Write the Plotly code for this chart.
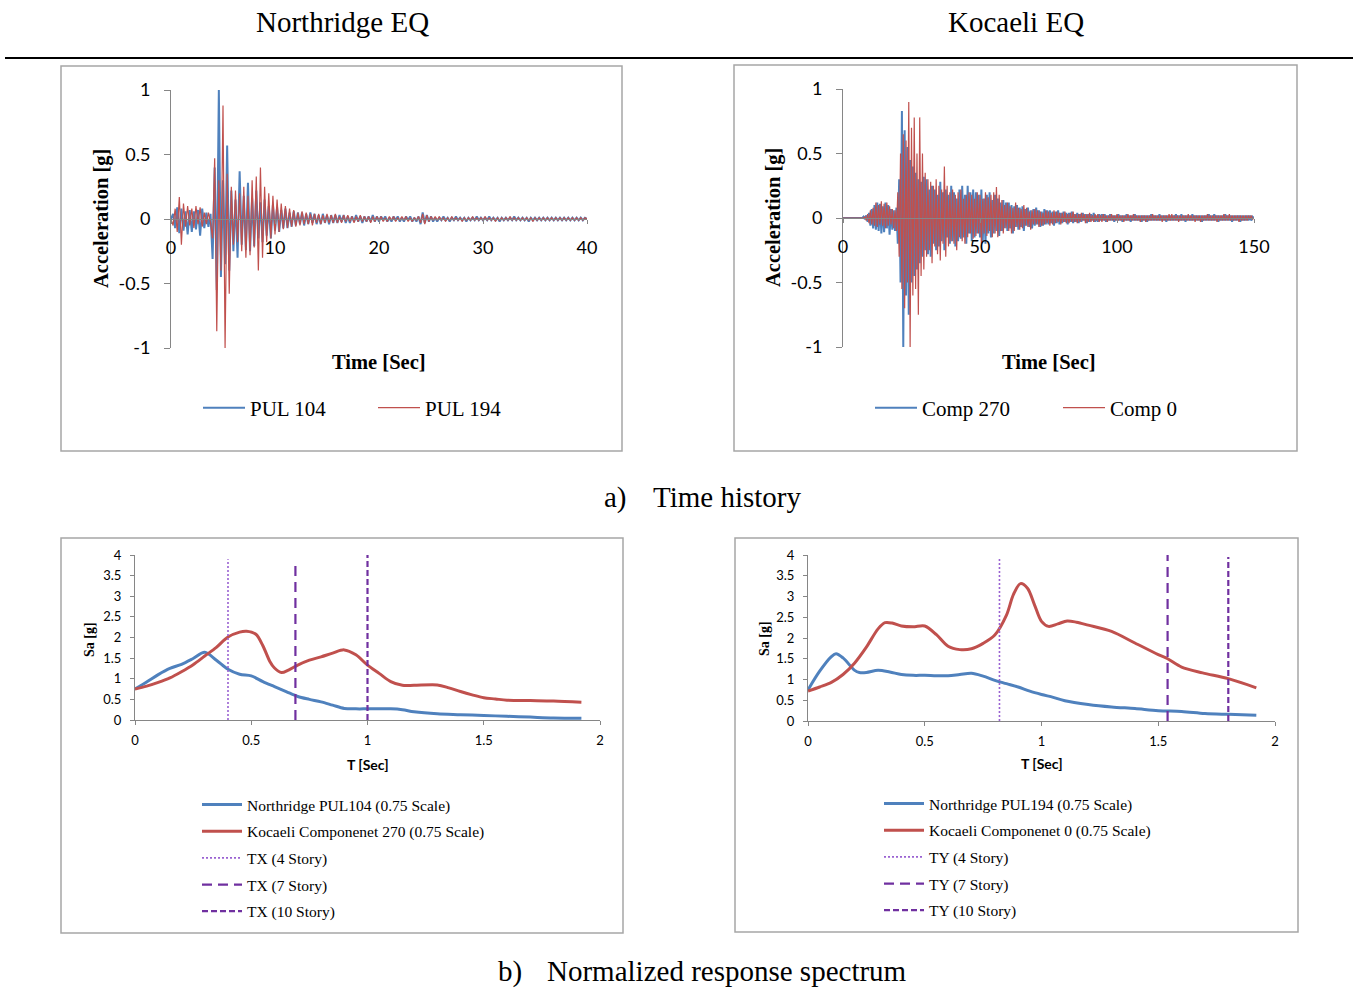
import numpy as np
import plotly.graph_objects as go

W, H = 1355, 989

# ---------------- Northridge ground motion (sampled every 0.2 s) ----------------
pul_dt = 0.2
pul104 = [
    0.00, 0.04, -0.07, 0.09, -0.11, 0.08, -0.09, 0.06, -0.12, 0.07,
    -0.10, 0.06, -0.08, 0.07, -0.13, 0.08, -0.07, 0.05, -0.06, 0.04,
    -0.31, 0.40, -0.55, 1.00, -0.45, 0.30, -0.35, 0.57, -0.40, 0.22,
    -0.25, 0.15, -0.30, 0.37, -0.20, 0.18, -0.24, 0.28, -0.25, 0.16,
    -0.21, 0.22, -0.15, 0.13, -0.18, 0.15, -0.13, 0.10, -0.15, 0.11,
    -0.09, 0.09, -0.10, 0.07, -0.07, 0.08, -0.07, 0.05, -0.06, 0.06,
    -0.05, 0.05, -0.04, 0.05, -0.05, 0.04, -0.04, 0.05, -0.03, 0.04,
    -0.04, 0.03, -0.04, 0.04, -0.03, 0.03, -0.04, 0.03, -0.03, 0.03,
    -0.03, 0.03, -0.02, 0.03, -0.03, 0.02, -0.03, 0.02, -0.02, 0.03,
    -0.02, 0.02, -0.03, 0.02, -0.02, 0.02, -0.02, 0.03, -0.02, 0.02,
    -0.02, 0.02, -0.01, 0.02, -0.02, 0.01, -0.02, 0.02, -0.01, 0.02,
    -0.02, 0.01, -0.02, 0.02, -0.01, 0.02, -0.02, 0.01, -0.02, 0.02,
    -0.04, 0.05, -0.03, 0.03, -0.02, 0.02, -0.02, 0.01, -0.02, 0.01,
    -0.01, 0.02, -0.01, 0.01, -0.02, 0.01, -0.01, 0.02, -0.01, 0.01,
    -0.01, 0.01, -0.02, 0.01, -0.01, 0.01, -0.01, 0.02, -0.01, 0.01,
    -0.01, 0.01, -0.01, 0.02, -0.01, 0.01, -0.01, 0.01, -0.02, 0.01,
    -0.01, 0.01, -0.01, 0.01, -0.01, 0.02, -0.01, 0.01, -0.01, 0.01,
    -0.01, 0.01, -0.02, 0.01, -0.01, 0.01, -0.01, 0.01, -0.01, 0.01,
    -0.01, 0.01, -0.01, 0.01, -0.01, 0.01, -0.01, 0.01, -0.01, 0.01,
    -0.01, 0.01, -0.01, 0.01, -0.01, 0.01, -0.01, 0.01, -0.01, 0.01,
    0.00,
]
pul194 = [
    0.00, -0.05, 0.08, -0.10, 0.17, -0.20, 0.12, -0.06, 0.10, -0.05,
    0.08, -0.07, 0.10, -0.04, 0.09, -0.06, 0.05, -0.04, 0.05, -0.03,
    -0.15, 0.47, -0.87, 0.30, -0.40, 0.88, -1.00, 0.35, -0.58, 0.25,
    -0.20, 0.22, -0.18, 0.20, -0.25, 0.25, -0.30, 0.18, -0.28, 0.30,
    -0.22, 0.33, -0.40, 0.40, -0.30, 0.25, -0.18, 0.20, -0.15, 0.18,
    -0.12, 0.15, -0.10, 0.12, -0.08, 0.10, -0.07, 0.08, -0.06, 0.07,
    -0.06, 0.05, -0.05, 0.06, -0.04, 0.05, -0.04, 0.04, -0.05, 0.04,
    -0.03, 0.04, -0.04, 0.03, -0.03, 0.04, -0.03, 0.03, -0.03, 0.04,
    -0.03, 0.02, -0.03, 0.03, -0.02, 0.03, -0.02, 0.02, -0.03, 0.02,
    -0.02, 0.03, -0.02, 0.02, -0.02, 0.02, -0.03, 0.02, -0.02, 0.02,
    -0.01, 0.02, -0.02, 0.01, -0.02, 0.02, -0.01, 0.02, -0.02, 0.01,
    -0.01, 0.02, -0.01, 0.02, -0.02, 0.01, -0.02, 0.01, -0.01, 0.02,
    -0.03, 0.04, -0.04, 0.03, -0.02, 0.02, -0.01, 0.02, -0.01, 0.02,
    -0.01, 0.01, -0.02, 0.01, -0.01, 0.02, -0.01, 0.01, -0.01, 0.01,
    -0.02, 0.01, -0.01, 0.01, -0.01, 0.02, -0.01, 0.01, -0.01, 0.01,
    -0.01, 0.02, -0.01, 0.01, -0.01, 0.01, -0.02, 0.01, -0.01, 0.01,
    -0.01, 0.01, -0.01, 0.02, -0.01, 0.01, -0.01, 0.01, -0.01, 0.01,
    -0.01, 0.01, -0.01, 0.01, -0.02, 0.01, -0.01, 0.01, -0.01, 0.01,
    -0.01, 0.01, -0.01, 0.01, -0.01, 0.01, -0.01, 0.01, -0.01, 0.01,
    -0.01, 0.01, -0.01, 0.01, -0.01, 0.01, -0.01, 0.01, -0.01, 0.01,
    0.00,
]

# ---------------- Kocaeli ground motion (sampled every 0.5 s) ----------------
koc_dt = 0.5
comp270 = [
    0, 0, 0, 0, 0, 0, 0, 0, 0, 0,
    0, 0, 0, 0, 0, 0.01, -0.01, 0.02, -0.03, 0.04,
    -0.06, 0.07, -0.08, 0.10, -0.09, 0.12, -0.10, 0.11, -0.12, 0.09,
    -0.11, 0.12, -0.08, 0.10, -0.13, 0.07, -0.09, 0.06, -0.10, 0.08,
    -0.20, 0.30, -0.50, 0.83, -1.00, 0.68, -0.60, 0.55, -0.75, 0.45,
    -0.50, 0.40, -0.45, 0.35, -0.40, 0.30, -0.35, 0.28, -0.30, 0.32,
    -0.25, 0.30, -0.28, 0.22, -0.30, 0.25, -0.20, 0.22, -0.25, 0.18,
    -0.22, 0.28, -0.18, 0.20, -0.25, 0.22, -0.15, 0.18, -0.20, 0.25,
    -0.18, 0.20, -0.22, 0.15, -0.18, 0.22, -0.16, 0.25, -0.15, 0.18,
    -0.20, 0.25, -0.12, 0.20, -0.18, 0.22, -0.15, 0.20, -0.12, 0.18,
    -0.15, 0.22, -0.18, 0.15, -0.20, 0.18, -0.12, 0.20, -0.15, 0.14,
    -0.12, 0.18, -0.10, 0.15, -0.14, 0.12, -0.10, 0.14, -0.08, 0.12,
    -0.10, 0.12, -0.08, 0.10, -0.12, 0.09, -0.07, 0.10, -0.09, 0.08,
    -0.07, 0.09, -0.10, 0.07, -0.06, 0.08, -0.07, 0.06, -0.08, 0.07,
    -0.06, 0.08, -0.05, 0.06, -0.07, 0.05, -0.06, 0.07, -0.05, 0.06,
    -0.05, 0.06, -0.04, 0.05, -0.06, 0.05, -0.04, 0.06, -0.05, 0.04,
    -0.04, 0.05, -0.03, 0.04, -0.05, 0.04, -0.03, 0.05, -0.04, 0.03,
    -0.03, 0.04, -0.04, 0.03, -0.03, 0.04, -0.02, 0.03, -0.04, 0.03,
    -0.03, 0.03, -0.02, 0.04, -0.03, 0.02, -0.03, 0.03, -0.02, 0.03,
    -0.02, 0.03, -0.03, 0.02, -0.02, 0.03, -0.02, 0.02, -0.03, 0.02,
    -0.02, 0.03, -0.02, 0.02, -0.03, 0.02, -0.02, 0.03, -0.02, 0.02,
    -0.03, 0.02, -0.02, 0.03, -0.02, 0.02, -0.02, 0.02, -0.03, 0.02,
    -0.02, 0.02, -0.03, 0.02, -0.02, 0.03, -0.02, 0.02, -0.02, 0.02,
    -0.02, 0.03, -0.02, 0.02, -0.02, 0.02, -0.03, 0.02, -0.02, 0.02,
    -0.02, 0.02, -0.02, 0.03, -0.02, 0.02, -0.02, 0.03, -0.02, 0.02,
    -0.03, 0.02, -0.02, 0.02, -0.02, 0.03, -0.02, 0.02, -0.02, 0.02,
    -0.02, 0.02, -0.03, 0.02, -0.02, 0.02, -0.02, 0.03, -0.02, 0.02,
    -0.02, 0.03, -0.02, 0.02, -0.03, 0.02, -0.02, 0.02, -0.02, 0.03,
    -0.02, 0.02, -0.02, 0.02, -0.03, 0.02, -0.02, 0.02, -0.02, 0.02,
    -0.03, 0.02, -0.02, 0.02, -0.02, 0.02, -0.02, 0.02, -0.02, 0.01,
    0.00,
]
comp0 = [
    0, 0, 0, 0, 0, 0, 0, 0, 0, 0,
    0, 0, 0, 0, 0, 0, 0.01, -0.02, 0.03, -0.04,
    0.06, -0.05, 0.08, -0.06, 0.12, -0.07, 0.10, -0.05, 0.13, -0.06,
    0.11, -0.08, 0.12, -0.06, 0.09, -0.05, 0.07, -0.08, 0.06, -0.10,
    0.20, -0.30, 0.50, -0.55, 0.65, -0.70, 0.60, -0.50, 0.90, -1.00,
    0.70, -0.60, 0.78, -0.55, 0.50, -0.75, 0.78, -0.45, 0.50, -0.40,
    0.35, -0.30, 0.30, -0.25, 0.28, -0.35, 0.25, -0.22, 0.30, -0.28,
    0.25, -0.33, 0.22, -0.20, 0.40, -0.30, 0.25, -0.22, 0.20, -0.18,
    0.22, -0.20, 0.18, -0.25, 0.20, -0.15, 0.22, -0.18, 0.15, -0.20,
    0.18, -0.15, 0.20, -0.12, 0.18, -0.16, 0.15, -0.14, 0.20, -0.12,
    0.18, -0.20, 0.15, -0.12, 0.20, -0.14, 0.16, -0.10, 0.18, -0.15,
    0.20, -0.12, 0.24, -0.15, 0.18, -0.10, 0.14, -0.12, 0.10, -0.08,
    0.12, -0.10, 0.09, -0.12, 0.08, -0.10, 0.12, -0.07, 0.08, -0.09,
    0.07, -0.08, 0.10, -0.06, 0.08, -0.07, 0.05, -0.09, 0.06, -0.05,
    0.07, -0.05, 0.06, -0.07, 0.05, -0.06, 0.04, -0.05, 0.06, -0.04,
    0.05, -0.06, 0.04, -0.05, 0.06, -0.04, 0.05, -0.03, 0.04, -0.05,
    0.04, -0.03, 0.05, -0.04, 0.03, -0.04, 0.04, -0.03, 0.05, -0.03,
    0.03, -0.04, 0.03, -0.03, 0.04, -0.02, 0.03, -0.04, 0.03, -0.03,
    0.04, -0.03, 0.02, -0.03, 0.03, -0.02, 0.03, -0.03, 0.02, -0.03,
    0.03, -0.02, 0.02, -0.03, 0.02, -0.02, 0.03, -0.02, 0.02, -0.02,
    0.03, -0.02, 0.02, -0.02, 0.02, -0.03, 0.02, -0.02, 0.03, -0.02,
    0.02, -0.02, 0.03, -0.02, 0.02, -0.02, 0.02, -0.03, 0.02, -0.02,
    0.02, -0.03, 0.02, -0.02, 0.02, -0.02, 0.03, -0.02, 0.02, -0.02,
    0.02, -0.02, 0.02, -0.03, 0.02, -0.02, 0.02, -0.02, 0.03, -0.02,
    0.03, -0.02, 0.02, -0.02, 0.02, -0.03, 0.02, -0.02, 0.02, -0.02,
    0.02, -0.02, 0.03, -0.02, 0.02, -0.02, 0.02, -0.03, 0.02, -0.02,
    0.02, -0.03, 0.02, -0.02, 0.02, -0.02, 0.03, -0.02, 0.02, -0.02,
    0.02, -0.02, 0.02, -0.03, 0.02, -0.02, 0.02, -0.02, 0.03, -0.02,
    0.02, -0.02, 0.03, -0.02, 0.02, -0.02, 0.02, -0.02, 0.02, -0.03,
    0.02, -0.02, 0.02, -0.02, 0.02, -0.02, 0.02, -0.01, 0.02, -0.01,
    0.00,
]

# ---------------- Normalized response spectra (0.75 scale) ----------------
t_pul104 = [0, 0.05, 0.1, 0.15, 0.2, 0.25, 0.3, 0.35, 0.4, 0.45, 0.5, 0.55, 0.6,
            0.65, 0.7, 0.75, 0.8, 0.85, 0.9, 0.95, 1.0, 1.1, 1.15, 1.2, 1.3, 1.4,
            1.5, 1.6, 1.7, 1.8, 1.92]
sa_pul104 = [0.75, 0.92, 1.10, 1.25, 1.35, 1.49, 1.64, 1.45, 1.23, 1.11, 1.07, 0.93,
             0.81, 0.69, 0.57, 0.50, 0.44, 0.36, 0.28, 0.27, 0.27, 0.27, 0.25, 0.20,
             0.15, 0.13, 0.11, 0.09, 0.07, 0.05, 0.04]

t_koc270 = [0, 0.05, 0.1, 0.15, 0.2, 0.25, 0.3, 0.35, 0.4, 0.45, 0.48, 0.52, 0.55,
            0.58, 0.6, 0.63, 0.66, 0.7, 0.75, 0.8, 0.85, 0.9, 0.95, 1.0, 1.05, 1.1,
            1.15, 1.2, 1.3, 1.35, 1.4, 1.45, 1.5, 1.55, 1.6, 1.7, 1.8, 1.92]
sa_koc270 = [0.75, 0.82, 0.91, 1.02, 1.17, 1.34, 1.55, 1.76, 2.01, 2.13, 2.15, 2.08,
             1.80, 1.42, 1.26, 1.15, 1.21, 1.33, 1.45, 1.53, 1.62, 1.70, 1.58, 1.33,
             1.13, 0.93, 0.84, 0.84, 0.85, 0.78, 0.69, 0.61, 0.54, 0.51, 0.48, 0.47,
             0.46, 0.43]

t_pul194 = [0, 0.05, 0.1, 0.12, 0.15, 0.2, 0.22, 0.25, 0.3, 0.35, 0.4, 0.45, 0.5,
            0.55, 0.6, 0.65, 0.7, 0.75, 0.8, 0.85, 0.9, 0.95, 1.0, 1.05, 1.1, 1.2,
            1.3, 1.4, 1.5, 1.6, 1.7, 1.8, 1.92]
sa_pul194 = [0.75, 1.20, 1.55, 1.62, 1.52, 1.22, 1.17, 1.17, 1.22, 1.18, 1.12, 1.10,
             1.10, 1.09, 1.09, 1.12, 1.15, 1.08, 0.98, 0.90, 0.82, 0.72, 0.64, 0.57,
             0.49, 0.40, 0.34, 0.30, 0.25, 0.23, 0.18, 0.16, 0.14]

t_koc0 = [0, 0.05, 0.1, 0.15, 0.2, 0.25, 0.3, 0.33, 0.36, 0.4, 0.45, 0.5, 0.55, 0.6,
          0.65, 0.7, 0.75, 0.8, 0.85, 0.88, 0.91, 0.94, 0.97, 1.0, 1.03, 1.07, 1.11,
          1.15, 1.2, 1.3, 1.4, 1.5, 1.54, 1.6, 1.69, 1.8, 1.92]
sa_koc0 = [0.72, 0.82, 0.93, 1.12, 1.40, 1.78, 2.22, 2.37, 2.36, 2.29, 2.27, 2.29,
           2.08, 1.80, 1.72, 1.74, 1.87, 2.07, 2.55, 3.05, 3.31, 3.20, 2.80, 2.40,
           2.28, 2.34, 2.41, 2.38, 2.31, 2.16, 1.88, 1.60, 1.50, 1.30, 1.16, 1.02,
           0.80]

# fundamental periods of the 4, 7 and 10 story buildings
tx_period = [0.40, 0.69, 1.00]
tx_top = [3.9, 3.8, 4.0]
ty_period = [0.82, 1.54, 1.80]
ty_top = [3.95, 4.0, 3.95]
story_names = ["4 Story", "7 Story", "10 Story"]

# axis tick labels
acc_ticks = [-1, -0.5, 0, 0.5, 1]
acc_ticktext = ["-1", "-0.5", "0", "0.5", "1"]
pul_time_ticks = [0, 10, 20, 30, 40]
koc_time_ticks = [0, 50, 100, 150]
period_ticks = [0, 0.5, 1, 1.5, 2]
period_ticktext = ["0", "0.5", "1", "1.5", "2"]
sa_ticks = [0, 0.5, 1, 1.5, 2, 2.5, 3, 3.5, 4]
sa_ticktext = ["0", "0.5", "1", "1.5", "2", "2.5", "3", "3.5", "4"]

BLUE = "#4F81BD"
RED = "#C0504D"
PURPLE = "#7030A0"
LILAC = "#9A62D2"
AXIS = "#868686"
SERIF = "Liberation Serif"
SANS = "Lato"


def px(x):
    return x / W


def py(y):
    return 1 - y / H


pul_time = np.arange(len(pul104)) * pul_dt
koc_time = np.arange(len(comp270)) * koc_dt

fig = go.Figure()

# time histories
fig.add_trace(go.Scatter(x=pul_time, y=pul104, name="PUL 104", mode="lines",
                         line=dict(color=BLUE, width=2), xaxis="x", yaxis="y", legend="legend"))
fig.add_trace(go.Scatter(x=pul_time, y=pul194, name="PUL 194", mode="lines",
                         line=dict(color=RED, width=1.2), xaxis="x", yaxis="y", legend="legend"))
fig.add_trace(go.Scatter(x=koc_time, y=comp270, name="Comp 270", mode="lines",
                         line=dict(color=BLUE, width=2), xaxis="x2", yaxis="y2", legend="legend2"))
fig.add_trace(go.Scatter(x=koc_time, y=comp0, name="Comp 0", mode="lines",
                         line=dict(color=RED, width=1.2), xaxis="x2", yaxis="y2", legend="legend2"))

# response spectra (each entry in its own legend group so the rows can be spaced)
fig.add_trace(go.Scatter(x=t_pul104, y=sa_pul104, name="Northridge PUL104 (0.75 Scale)",
                         mode="lines", line=dict(color=BLUE, width=3, shape="spline", smoothing=0.9),
                         xaxis="x3", yaxis="y3", legend="legend3", legendgroup="bl1"))
fig.add_trace(go.Scatter(x=t_koc270, y=sa_koc270, name="Kocaeli Componenet 270 (0.75 Scale)",
                         mode="lines", line=dict(color=RED, width=3, shape="spline", smoothing=0.9),
                         xaxis="x3", yaxis="y3", legend="legend3", legendgroup="bl2"))
fig.add_trace(go.Scatter(x=t_pul194, y=sa_pul194, name="Northridge PUL194 (0.75 Scale)",
                         mode="lines", line=dict(color=BLUE, width=3, shape="spline", smoothing=0.9),
                         xaxis="x4", yaxis="y4", legend="legend4", legendgroup="br1"))
fig.add_trace(go.Scatter(x=t_koc0, y=sa_koc0, name="Kocaeli Componenet 0 (0.75 Scale)",
                         mode="lines", line=dict(color=RED, width=3, shape="spline", smoothing=0.9),
                         xaxis="x4", yaxis="y4", legend="legend4", legendgroup="br2"))

period_styles = [
    dict(color=LILAC, width=1.6, dash="2px,2px"),
    dict(color=PURPLE, width=2.2, dash="10px,6px"),
    dict(color=PURPLE, width=2.2, dash="6px,3px"),
]
for k, (per, top, lbl, sty) in enumerate(zip(tx_period, tx_top, story_names, period_styles)):
    fig.add_trace(go.Scatter(x=[per, per], y=[0, top], name=f"TX ({lbl})", mode="lines",
                             line=sty, xaxis="x3", yaxis="y3", legend="legend3",
                             legendgroup=f"blp{k}"))
for k, (per, top, lbl, sty) in enumerate(zip(ty_period, ty_top, story_names, period_styles)):
    fig.add_trace(go.Scatter(x=[per, per], y=[0, top], name=f"TY ({lbl})", mode="lines",
                             line=sty, xaxis="x4", yaxis="y4", legend="legend4",
                             legendgroup=f"brp{k}"))

# ---------------- axes ----------------
def acc_yaxis(top, bottom, anchor):
    return dict(domain=[py(bottom), py(top)], range=[-1, 1], anchor=anchor,
                tickmode="array", tickvals=acc_ticks, ticktext=acc_ticktext,
                showline=True, linecolor=AXIS, linewidth=1, ticks="outside", ticklen=6,
                tickcolor=AXIS, showgrid=False, zeroline=False, ticklabelstandoff=10,
                tickfont=dict(family=SANS, size=18, color="#000"))


def time_xaxis(left, right, zero_y, rng, ticks):
    return dict(domain=[px(left), px(right)], range=rng, anchor="free", position=py(zero_y),
                tickmode="array", tickvals=ticks, showline=True, linecolor=AXIS, linewidth=1,
                ticks="outside", ticklen=4, tickcolor=AXIS, showgrid=False, zeroline=False,
                ticklabelstandoff=8, tickfont=dict(family=SANS, size=18, color="#000"))


def per_xaxis(left, right, anchor):
    return dict(domain=[px(left), px(right)], range=[0, 2], anchor=anchor,
                tickmode="array", tickvals=period_ticks, ticktext=period_ticktext,
                showline=True, linecolor=AXIS, linewidth=1, ticks="outside", ticklen=4,
                tickcolor=AXIS, showgrid=False, zeroline=False, ticklabelstandoff=4,
                tickfont=dict(family=SANS, size=13, color="#000"))


def sa_yaxis(top, bottom, anchor):
    return dict(domain=[py(bottom), py(top)], range=[0, 4], anchor=anchor,
                tickmode="array", tickvals=sa_ticks, ticktext=sa_ticktext,
                showline=True, linecolor=AXIS, linewidth=1, ticks="outside", ticklen=4,
                tickcolor=AXIS, showgrid=False, zeroline=False, ticklabelstandoff=6,
                tickfont=dict(family=SANS, size=13, color="#000"))


def legend_h(x, y, size, entry):
    return dict(orientation="h", x=px(x), y=py(y), xanchor="left", yanchor="middle",
                font=dict(family=SERIF, size=size, color="#000"), bgcolor="rgba(0,0,0,0)",
                itemwidth=42, entrywidthmode="pixels", entrywidth=entry)


def legend_v(x, y, size):
    return dict(orientation="v", x=px(x), y=py(y), xanchor="left", yanchor="top",
                font=dict(family=SERIF, size=size, color="#000"), bgcolor="rgba(0,0,0,0)",
                itemwidth=40, tracegroupgap=3.5)


fig.update_layout(
    width=W, height=H, margin=dict(l=0, r=0, t=0, b=0, autoexpand=False),
    paper_bgcolor="white", plot_bgcolor="white",
    font=dict(family=SERIF, color="#000"),
    xaxis=time_xaxis(171, 587, 219, [0, 40], pul_time_ticks),
    yaxis=acc_yaxis(90, 348, "x"),
    xaxis2=time_xaxis(843, 1254, 218, [0, 150], koc_time_ticks),
    yaxis2=acc_yaxis(89, 347, "x2"),
    xaxis3=per_xaxis(135, 600, "y3"),
    yaxis3=sa_yaxis(555, 720, "x3"),
    xaxis4=per_xaxis(808, 1275, "y4"),
    yaxis4=sa_yaxis(555, 721, "x4"),
    legend=legend_h(198, 408, 21, 118),
    legend2=legend_h(870, 408, 21, 131),
    legend3=legend_v(197, 788, 15.5),
    legend4=legend_v(879, 787, 15.5),
    showlegend=True,
)

# chart frames and the rule under the column headings
frames = [(61, 66, 622, 451), (734, 65, 1297, 451), (61, 538, 623, 933), (735, 538, 1298, 932)]
shapes = [dict(type="rect", xref="paper", yref="paper", x0=px(a), y0=py(d), x1=px(c), y1=py(b),
               line=dict(color="#A6A6A6", width=1.5), layer="below") for a, b, c, d in frames]
shapes.append(dict(type="line", xref="paper", yref="paper", x0=px(5), x1=px(1353),
                   y0=py(58), y1=py(58), line=dict(color="#000", width=2)))
fig.update_layout(shapes=shapes)


def label(text, x, y, size, family=SERIF, bold=False, angle=0):
    t = f"<b>{text}</b>" if bold else text
    return dict(text=t, x=px(x), y=py(y), xref="paper", yref="paper", showarrow=False,
                xanchor="center", yanchor="middle", textangle=angle,
                font=dict(family=family, size=size, color="#000"))


fig.update_layout(annotations=[
    label("Northridge EQ", 342, 22, 29),
    label("Kocaeli EQ", 1016, 22, 29),
    label("a)", 615, 497, 29),
    label("Time history", 727, 497, 29),
    label("b)", 510, 971, 29),
    label("Normalized response spectrum", 727, 971, 29),
    label("Acceleration [g]", 101, 219, 20.5, bold=True, angle=-90),
    label("Acceleration [g]", 774, 218, 20.5, bold=True, angle=-90),
    label("Time [Sec]", 379, 362, 20.5, bold=True),
    label("Time [Sec]", 1049, 362, 20.5, bold=True),
    label("T [Sec]", 368, 764, 14, family=SANS, bold=True),
    label("T [Sec]", 1042, 763, 14, family=SANS, bold=True),
    label("Sa [g]", 89, 640, 14, bold=True, angle=-90),
    label("Sa [g]", 764, 639, 14, bold=True, angle=-90),
])

fig.write_html("out.html")
